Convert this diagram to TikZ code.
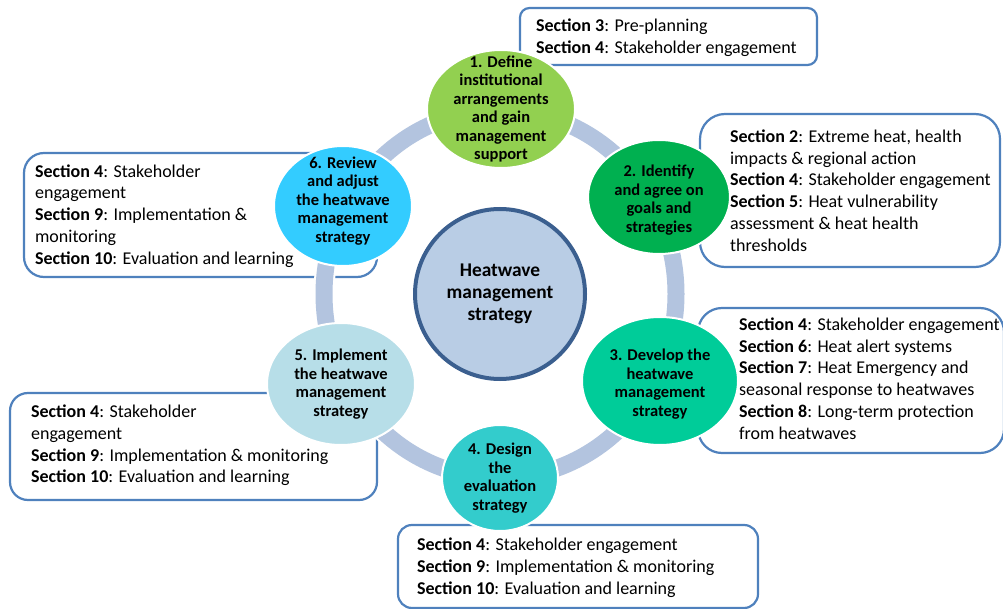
\documentclass[tikz,border=0pt]{standalone}
\usepackage{fontspec}
\setmainfont{Carlito}
\usetikzlibrary{shapes.geometric}

\definecolor{defcol}{HTML}{92D050}
\definecolor{goalcol}{HTML}{00B050}
\definecolor{devcol}{HTML}{00CC99}
\definecolor{evalcol}{HTML}{33CCCC}
\definecolor{implcol}{HTML}{B7DEE8}
\definecolor{revcol}{HTML}{33CCFF}
\definecolor{ringcol}{HTML}{B3C4DF}
\definecolor{hubfill}{HTML}{B9CDE5}
\definecolor{hubline}{HTML}{3B5F8F}
\definecolor{boxline}{HTML}{4F81BD}

\tikzset{
  secbox/.style={draw=boxline, line width=2.2pt, fill=white, inner sep=0pt},
  sectext/.style={anchor=west, align=left, inner sep=0pt, font=\fontsize{18}{21.8}\selectfont},
  stage/.style={ellipse, draw=white, line width=2pt, inner sep=0pt},
  stagetext/.style={align=center, inner sep=0pt, font=\fontsize{16.5}{18.5}\selectfont\bfseries},
}

\begin{document}
\begin{tikzpicture}[x=1pt, y=-1pt]
  \useasboundingbox (0,0) rectangle (1003,609);

  % Section boxes behind everything
  \node[secbox, rounded corners=9.5pt, minimum width=297pt, minimum height=57pt] (sec1) at (668.5,36.5) {};
  \node[secbox, rounded corners=25pt, minimum width=300pt, minimum height=153pt] (sec2) at (850,190.5) {};
  \node[secbox, rounded corners=24pt, minimum width=306pt, minimum height=145pt] (sec3) at (851,380.5) {};
  \node[secbox, rounded corners=14pt, minimum width=360pt, minimum height=83pt] (sec4) at (578,566.5) {};
  \node[secbox, rounded corners=18pt, minimum width=367pt, minimum height=107pt] (sec5) at (193.5,446.5) {};
  \node[secbox, rounded corners=20pt, minimum width=353pt, minimum height=124pt] (sec6) at (200.5,215) {};

  \node[sectext] (txt1) at ([xshift=17pt,yshift=-1pt]sec1.west)
    {\textbf{Section 3}: Pre-planning\\\textbf{Section 4}: Stakeholder engagement};
  \node[sectext] (txt2) at ([xshift=31pt]sec2.west)
    {\textbf{Section 2}: Extreme heat, health\\impacts \& regional action\\\textbf{Section 4}: Stakeholder engagement\\\textbf{Section 5}: Heat vulnerability\\assessment \& heat health\\thresholds};
  \node[sectext] (txt3) at ([xshift=42pt,yshift=2pt]sec3.west)
    {\textbf{Section 4}: Stakeholder engagement\\\textbf{Section 6}: Heat alert systems\\\textbf{Section 7}: Heat Emergency and\\seasonal response to heatwaves\\\textbf{Section 8}: Long-term protection\\from heatwaves};
  \node[sectext] (txt4) at ([xshift=20pt,yshift=-1pt]sec4.west)
    {\textbf{Section 4}: Stakeholder engagement\\\textbf{Section 9}: Implementation \& monitoring\\\textbf{Section 10}: Evaluation and learning};
  \node[sectext] (txt5) at ([xshift=22pt,yshift=1pt]sec5.west)
    {\textbf{Section 4}: Stakeholder\\engagement\\\textbf{Section 9}: Implementation \& monitoring\\\textbf{Section 10}: Evaluation and learning};
  \node[sectext] (txt6) at ([xshift=12pt,yshift=-1pt]sec6.west)
    {\textbf{Section 4}: Stakeholder\\engagement\\\textbf{Section 9}: Implementation \&\\monitoring\\\textbf{Section 10}: Evaluation and learning};

  % The cycle ring
  \draw[white, line width=21pt] (500,294) ellipse [x radius=176, y radius=184];
  \draw[ringcol, line width=17pt] (500,294) ellipse [x radius=176, y radius=184];

  % Hub in the middle
  \node[circle, draw=hubline, line width=4pt, fill=hubfill, minimum size=170pt, inner sep=0pt,
        align=center, font=\fontsize{19.4}{21.7}\selectfont\bfseries] (hub) at (500,294)
    {Heatwave\\management\\strategy};

  % Six stages round the ring
  \node[stage, fill=defcol, minimum width=148pt, minimum height=118pt] (st1) at (501,109) {};
  \node[stage, fill=goalcol, minimum width=142pt, minimum height=114pt] (st2) at (659,197) {};
  \node[stage, fill=devcol, minimum width=156pt, minimum height=128pt] (st3) at (660,381) {};
  \node[stage, fill=evalcol, minimum width=116pt, minimum height=106pt] (st4) at (500,478) {};
  \node[stage, fill=implcol, minimum width=148pt, minimum height=122pt] (st5) at (341,384) {};
  \node[stage, fill=revcol, minimum width=138pt, minimum height=120pt] (st6) at (343,206) {};

  \node[stagetext] (lab1) at (st1) {1. Define\\institutional\\arrangements\\and gain\\management\\support};
  \node[stagetext] (lab2) at ([yshift=-3pt]st2.center) {2. Identify\\and agree on\\goals and\\strategies};
  \node[stagetext] (lab3) at ([yshift=-3pt]st3.center) {3. Develop the\\heatwave\\management\\strategy};
  \node[stagetext] (lab4) at (st4) {4. Design\\the\\evaluation\\strategy};
  \node[stagetext] (lab5) at (st5) {5. Implement\\the heatwave\\management\\strategy};
  \node[stagetext] (lab6) at ([yshift=5pt]st6.center) {6. Review\\and adjust\\the heatwave\\management\\strategy};
\end{tikzpicture}
\end{document}
